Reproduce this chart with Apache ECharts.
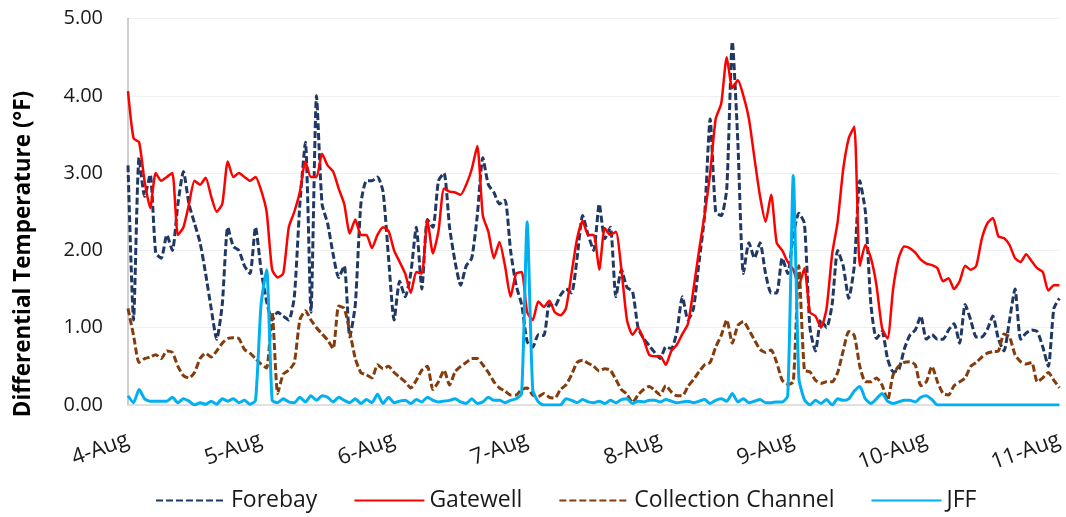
<!DOCTYPE html>
<html>
<head>
<meta charset="utf-8">
<script src="https://cdn.jsdelivr.net/npm/echarts@6/dist/echarts.min.js"></script>
<style>html,body{margin:0;padding:0;background:#fff}#c{width:1066px;height:517px}</style>
</head>
<body>
<div id="c"></div>
<script>
// hourly readings, 4-Aug 00:00 (index 0) to 11-Aug 00:00 (index 168)
const dayLabels = ['4-Aug','5-Aug','6-Aug','7-Aug','8-Aug','9-Aug','10-Aug','11-Aug'];
const yTicks = [0, 1, 2, 3, 4, 5];

const forebay = [
 3.1,1.1,3.2,2.7,2.98,1.97,1.9,2.2,2.0,2.6,3.02,2.6,2.35,2.1,1.7,1.25,0.85,1.3,2.3,2.05,2.0,1.8,1.7,2.3,
 1.75,1.34,1.1,1.2,1.15,1.1,1.4,2.6,3.4,1.2,4.0,2.6,2.35,1.95,1.65,1.8,0.88,1.3,2.6,2.9,2.9,2.95,2.76,1.9,
 1.1,1.6,1.4,1.7,2.3,1.5,2.4,2.3,2.9,3.0,2.3,1.85,1.55,1.8,1.9,2.45,3.2,2.85,2.75,2.6,2.65,2.0,1.55,1.3,
 0.82,0.75,0.91,0.9,1.3,1.28,1.42,1.5,1.45,1.9,2.45,2.2,2.0,2.6,2.15,2.3,1.4,1.75,1.52,1.47,1.0,0.86,0.77,0.68,
 0.6,0.75,0.73,0.95,1.4,1.1,1.25,1.85,2.45,3.7,2.5,2.45,2.8,4.7,3.4,1.7,2.1,1.9,2.1,1.7,1.45,1.45,1.9,1.7,
 2.2,2.48,2.35,1.0,0.7,1.1,1.0,1.3,2.0,1.8,1.38,1.8,2.9,2.5,1.3,0.86,0.95,0.6,0.43,0.45,0.72,0.9,0.97,1.15,
 0.85,0.91,0.85,0.85,0.97,1.05,0.8,1.3,1.1,0.88,0.88,0.98,1.15,0.85,0.7,1.1,1.5,0.85,0.93,0.97,0.95,0.75,0.5,1.25,
 1.38
];
const gatewell = [
 4.06,3.45,3.4,2.89,2.55,3.0,2.9,2.95,3.0,2.2,2.3,2.6,2.9,2.85,2.94,2.7,2.5,2.6,3.15,2.95,3.0,2.95,2.9,2.95,
 2.78,2.5,1.75,1.65,1.7,2.3,2.5,2.76,3.15,2.95,2.95,3.25,3.1,3.02,2.8,2.6,2.22,2.4,2.2,2.2,2.03,2.2,2.3,2.25,
 2.0,1.85,1.7,1.45,1.72,1.7,2.4,1.96,2.25,2.8,2.76,2.75,2.72,2.85,3.05,3.35,2.45,2.24,1.9,2.11,1.8,1.4,1.7,1.72,
 1.2,1.1,1.34,1.27,1.35,1.2,1.16,1.25,1.7,2.15,2.38,2.2,2.2,1.75,2.29,2.2,2.24,1.75,1.1,0.91,1.0,0.85,0.65,0.63,
 0.63,0.52,0.7,0.78,0.92,1.05,1.5,2.0,2.46,3.0,3.7,3.9,4.5,4.1,4.2,4.0,3.7,3.19,2.7,2.37,2.72,2.1,2.0,1.85,
 1.75,1.55,1.77,1.2,1.15,1.0,1.25,1.95,2.37,3.05,3.45,3.6,1.8,2.07,1.9,1.55,1.0,0.86,1.5,1.9,2.05,2.03,1.97,1.88,
 1.83,1.81,1.77,1.6,1.64,1.5,1.6,1.8,1.75,1.8,2.15,2.35,2.42,2.18,2.16,2.07,1.9,1.85,1.95,1.86,1.77,1.72,1.48,1.55,
 1.55
];
const collection = [
 1.25,0.9,0.55,0.6,0.62,0.65,0.6,0.7,0.68,0.5,0.38,0.35,0.42,0.6,0.67,0.62,0.7,0.8,0.86,0.87,0.86,0.72,0.67,0.6,
 0.53,0.48,1.2,0.15,0.4,0.45,0.55,1.1,1.22,1.1,1.0,0.92,0.84,0.73,1.28,1.25,0.95,0.6,0.42,0.39,0.35,0.52,0.47,0.5,
 0.42,0.36,0.3,0.22,0.32,0.45,0.5,0.2,0.3,0.45,0.26,0.43,0.5,0.55,0.6,0.6,0.52,0.42,0.3,0.22,0.18,0.13,0.13,0.2,
 0.22,0.13,0.11,0.15,0.1,0.09,0.2,0.26,0.39,0.55,0.58,0.54,0.5,0.44,0.47,0.45,0.33,0.2,0.14,0.03,0.13,0.2,0.24,0.19,
 0.13,0.25,0.17,0.12,0.12,0.24,0.33,0.43,0.52,0.55,0.75,0.9,1.1,0.8,1.03,1.08,0.97,0.84,0.72,0.68,0.71,0.55,0.32,0.27,
 0.3,1.8,0.45,0.43,0.32,0.28,0.3,0.3,0.42,0.7,0.95,0.9,0.5,0.3,0.3,0.35,0.26,0.06,0.39,0.5,0.55,0.56,0.52,0.25,
 0.3,0.5,0.3,0.15,0.13,0.25,0.3,0.35,0.5,0.55,0.62,0.67,0.69,0.7,0.92,0.88,0.65,0.56,0.53,0.55,0.3,0.35,0.42,0.32,
 0.22
];
const jff = [
 0.12,0.03,0.2,0.08,0.05,0.05,0.05,0.05,0.1,0.03,0.08,0.05,0.0,0.03,0.01,0.05,0.01,0.08,0.05,0.08,0.03,0.06,0.01,0.06,
 1.3,1.75,0.06,0.03,0.08,0.04,0.03,0.1,0.04,0.12,0.06,0.12,0.1,0.04,0.1,0.06,0.03,0.08,0.02,0.07,0.03,0.14,0.02,0.1,
 0.03,0.05,0.06,0.02,0.07,0.04,0.1,0.06,0.04,0.05,0.06,0.08,0.04,0.02,0.08,0.02,0.04,0.1,0.06,0.06,0.03,0.06,0.08,0.15,
 2.37,0.2,0.04,0.0,0.0,0.0,0.0,0.08,0.06,0.03,0.07,0.04,0.03,0.05,0.02,0.06,0.03,0.07,0.08,0.02,0.05,0.04,0.06,0.06,
 0.04,0.07,0.05,0.03,0.04,0.05,0.03,0.05,0.07,0.02,0.06,0.08,0.05,0.15,0.04,0.08,0.03,0.05,0.07,0.03,0.03,0.04,0.04,0.12,
 2.97,0.35,0.07,0.0,0.06,0.02,0.07,0.0,0.08,0.06,0.08,0.18,0.24,0.08,0.02,0.08,0.15,0.05,0.02,0.04,0.06,0.06,0.04,0.1,
 0.12,0.07,0.0,0.0,0.0,0.0,0.0,0.0,0.0,0.0,0.0,0.0,0.0,0.0,0.0,0.0,0.0,0.0,0.0,0.0,0.0,0.0,0.0,0.0,
 0.0
];

const toPairs = arr => arr.map((v, i) => [i, v]);
const FONT = '"Open Sans", "Noto Sans", sans-serif';
const chart = echarts.init(document.getElementById('c'), null, {renderer: 'canvas'});

chart.setOption({
  animation: false,
  backgroundColor: '#ffffff',
  grid: {left: 128, right: 6, top: 18.5, bottom: 112, containLabel: false},
  xAxis: {
    type: 'value', min: 0, max: 168, interval: 24,
    axisLine: {show: true, lineStyle: {color: '#d9d9d9', width: 1.5}},
    axisTick: {show: false},
    splitLine: {show: false},
    axisLabel: {
      rotate: 20, margin: 34, fontSize: 22, color: '#1a1a1a', fontFamily: FONT,
      formatter: v => dayLabels[Math.round(v / 24)] || ''
    }
  },
  yAxis: {
    type: 'value', min: yTicks[0], max: yTicks[yTicks.length - 1], interval: 1,
    axisLine: {show: true, lineStyle: {color: '#bfbfbf', width: 1.5}},
    axisTick: {show: false},
    splitLine: {show: true, lineStyle: {color: '#f0f0f0', width: 1}},
    axisLabel: {margin: 25, fontSize: 20, color: '#1a1a1a', fontFamily: FONT,
      formatter: v => v.toFixed(2)}
  },
  legend: {
    left: 150, top: 484, itemWidth: 70, itemHeight: 14, itemGap: 36,
    itemStyle: {opacity: 0, borderWidth: 0},
    textStyle: {fontSize: 23, color: '#1a1a1a', fontFamily: FONT},
    data: ['Forebay', 'Gatewell', 'Collection Channel', 'JFF']
  },
  graphic: [{
    type: 'text', x: 24, y: 254, rotation: Math.PI / 2,
    style: {text: 'Differential Temperature (°F)', fontSize: 22.5, fontWeight: 'bold',
      fontFamily: FONT, fill: '#000000', align: 'center', verticalAlign: 'middle'}
  }],
  series: [
    {name: 'Forebay', type: 'line', data: toPairs(forebay), symbol: 'none', smooth: 0.2,
     lineStyle: {color: '#203864', width: 3, type: [7, 3]}, itemStyle: {color: '#203864'}},
    {name: 'Gatewell', type: 'line', data: toPairs(gatewell), symbol: 'none', smooth: 0.2,
     lineStyle: {color: '#ff0000', width: 2.5}, itemStyle: {color: '#ff0000'}},
    {name: 'Collection Channel', type: 'line', data: toPairs(collection), symbol: 'none', smooth: 0.2,
     lineStyle: {color: '#843c0c', width: 3, type: [7, 3]}, itemStyle: {color: '#843c0c'}},
    {name: 'JFF', type: 'line', data: toPairs(jff), symbol: 'none', smooth: 0.2,
     lineStyle: {color: '#00b0f0', width: 3}, itemStyle: {color: '#00b0f0'}}
  ]
});
</script>
</body>
</html>
